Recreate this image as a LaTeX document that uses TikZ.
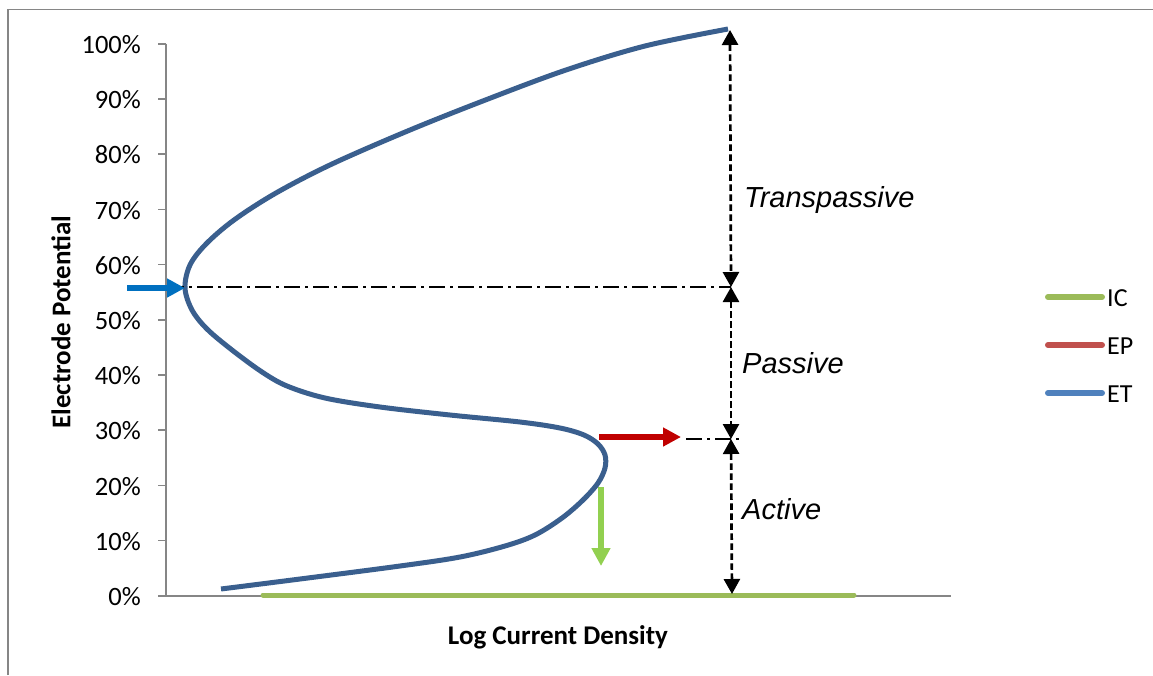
\documentclass[tikz,border=0pt]{standalone}
\usepackage{fontspec}
\setmainfont{Carlito}
\newfontfamily\regionfont{Liberation Sans}
\usetikzlibrary{arrows.meta}
\definecolor{frame}{HTML}{868686}
\definecolor{etcurve}{HTML}{3A5F8E}
\definecolor{legIC}{HTML}{9BBB59}
\definecolor{legEP}{HTML}{C0504D}
\definecolor{legET}{HTML}{4F81BD}
\definecolor{arrBlue}{HTML}{0070C0}
\definecolor{arrRed}{HTML}{C00000}
\definecolor{arrGreen}{HTML}{92D050}
\begin{document}
\begin{tikzpicture}[x=1pt,y=-1pt,
  axisline/.style={draw=frame,line width=1.6pt},
  ticklabel/.style={anchor=east,inner sep=0pt,font=\fontsize{26.5}{26.5}\selectfont},
  axistitle/.style={inner sep=0pt,font=\fontsize{27}{27}\selectfont\bfseries},
  regionlabel/.style={anchor=west,inner sep=0pt,font=\fontsize{29}{29}\selectfont\regionfont\itshape},
  legtext/.style={anchor=west,inner sep=0pt,font=\fontsize{26}{26}\selectfont},
  legline/.style={line width=6pt,line cap=round},
  span/.style={line width=2.7pt,dash pattern=on 6.5pt off 3.5pt,
    {Triangle[length=15pt,width=16pt]}-{Triangle[length=15pt,width=16pt]}},
  guide/.style={line width=1.3pt,dash pattern=on 16pt off 5pt on 3pt off 5pt},
  fatarrow/.style={line width=6pt,-{Triangle[length=18pt,width=18pt]}}]
\useasboundingbox (0,0) rectangle (1153,675);

% outer frame (left and top edges)
\draw[frame,line width=1.6pt] (8,675) -- (8,9.5) -- (1153,9.5);

% axes
\coordinate (origin) at (166,596);
\coordinate (ytop) at (166,43.7);
\coordinate (xend) at (951,596);
\draw[axisline] (ytop) -- (origin) -- (xend);
\foreach \p in {0,10,...,100}{
  \draw[axisline] (158,{595.7-5.52*\p}) -- (166,{595.7-5.52*\p});
  \node[ticklabel] (tick\p) at (141,{596.5-5.52*\p}) {\p\%};
}
\node[axistitle] (xtitle) at (558,637) {Log Current Density};
\node[axistitle,rotate=90] (ytitle) at (61,322) {Electrode Potential};

% IC line along the bottom
\coordinate (icA) at (263,595);
\coordinate (icB) at (854,595);
\draw[legIC,line width=5pt,line cap=round] (icA) -- (icB);

% ET polarisation curve
\draw[etcurve,line width=5pt] plot[smooth,tension=0.55] coordinates {
  (221,589) (300,579) (400,566) (460,557) (505,546) (535,535)
  (562,518) (583,500) (598,483) (605,468) (605,455) (598,444)
  (584,435) (560,428) (520,422) (450,415) (380,407) (325,398)
  (287,386) (262,372) (232,350) (207,329) (192,310) (185,288)
  (190,265) (206,244) (234,220) (276,193) (332,164) (410,130)
  (488,99) (566,70) (645,46) (728,29)};

% guide lines at the transition potentials
\coordinate (g56a) at (168,287);
\coordinate (g56b) at (731,287);
\coordinate (g28a) at (686,439);
\coordinate (g28b) at (740,439);
\draw[guide] (g56a) -- (g56b);
\draw[guide] (g28a) -- (g28b);

% region spans
\coordinate (v100) at (730,30);
\coordinate (v56) at (731,287);
\coordinate (v28) at (731,439);
\coordinate (v0) at (732,594);
\draw[span] (v100) -- (v56);
\draw[span] (v56) -- (v28);
\draw[span] (v28) -- (v0);
\node[regionlabel] (trans) at (744,200) {Transpassive};
\node[regionlabel] (pass) at (742,363) {Passive};
\node[regionlabel] (act) at (742,509) {Active};

% marker arrows
\coordinate (bTail) at (127,288);
\coordinate (bTip) at (185,288);
\draw[fatarrow,arrBlue] (bTail) -- (bTip);
\coordinate (rTail) at (599,437);
\coordinate (rTip) at (681,437);
\draw[fatarrow,arrRed] (rTail) -- (rTip);
\coordinate (gTail) at (601,487);
\coordinate (gTip) at (601,566);
\draw[fatarrow,arrGreen,line width=5.5pt] (gTail) -- (gTip);

% legend
\coordinate (lIC1) at (1048,297); \coordinate (lIC2) at (1102,297);
\coordinate (lEP1) at (1048,345); \coordinate (lEP2) at (1102,345);
\coordinate (lET1) at (1048,393); \coordinate (lET2) at (1102,393);
\draw[legline,legIC] (lIC1) -- (lIC2);
\draw[legline,legEP] (lEP1) -- (lEP2);
\draw[legline,legET] (lET1) -- (lET2);
\node[legtext] (nIC) at (1107,298) {IC};
\node[legtext] (nEP) at (1107,346) {EP};
\node[legtext] (nET) at (1107,394) {ET};
\end{tikzpicture}
\end{document}
